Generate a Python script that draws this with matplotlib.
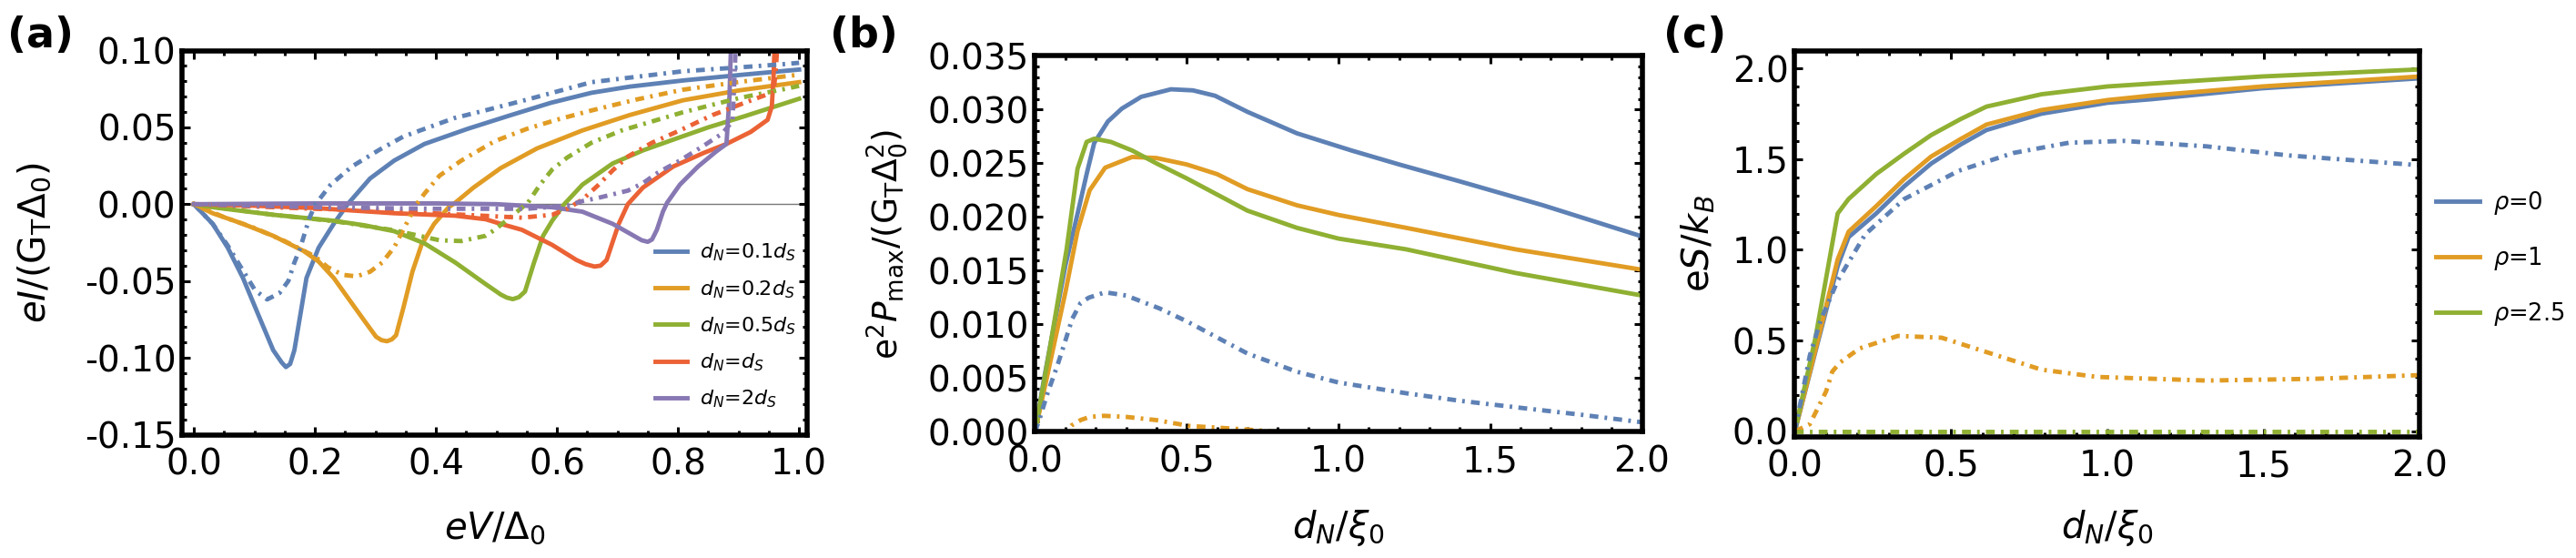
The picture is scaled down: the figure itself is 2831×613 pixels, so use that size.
import matplotlib
matplotlib.use("Agg")
import matplotlib.pyplot as plt
from matplotlib.ticker import MultipleLocator, FormatStrFormatter

plt.rcParams['font.family'] = ['DejaVu Sans']
plt.rcParams['mathtext.fontset'] = 'dejavusans'

# Mathematica default palette
BLUE, ORANGE, GREEN, RED, PURPLE = '#5E81B5', '#E19C24', '#8FB032', '#EB6235', '#8778B3'
DASHDOT = (0, (2.0, 1.4, 0.6, 1.4))

# ---------------- panel (a): eI/(G_T Delta_0) vs eV/Delta_0 ----------------
a_labels = [r'$d_N$=0.1$d_S$', r'$d_N$=0.2$d_S$', r'$d_N$=0.5$d_S$',
            r'$d_N$=$d_S$', r'$d_N$=2$d_S$']

a_blue_x = [0, 0.031, 0.056, 0.081, 0.106, 0.131, 0.145, 0.152, 0.159, 0.166, 0.176, 0.186,
            0.206, 0.231, 0.254, 0.291, 0.331, 0.381, 0.452, 0.52, 0.59, 0.657, 0.72, 0.808,
            0.908, 1.0]
a_blue_y = [0, -0.0128, -0.0284, -0.048, -0.0716, -0.095, -0.103, -0.106, -0.104, -0.095,
            -0.0716, -0.048, -0.0284, -0.0128, 0, 0.0167, 0.0284, 0.0392, 0.049, 0.0575,
            0.066, 0.0725, 0.0765, 0.0805, 0.0843, 0.0876]
a_blue_dd_x = [0, 0.031, 0.056, 0.076, 0.101, 0.121, 0.141, 0.156, 0.166, 0.176, 0.191,
               0.201, 0.226, 0.261, 0.306, 0.346, 0.381, 0.43, 0.481, 0.55, 0.657, 0.808,
               0.9, 0.977, 1.0]
a_blue_dd_y = [0, -0.0128, -0.027, -0.040, -0.056, -0.062, -0.058, -0.050, -0.038, -0.028,
               -0.0088, 0, 0.0127, 0.0245, 0.0353, 0.044, 0.049, 0.056, 0.061, 0.068, 0.0794,
               0.0865, 0.089, 0.0912, 0.092]

a_orange_x = [0, 0.031, 0.081, 0.131, 0.181, 0.206, 0.231, 0.256, 0.281, 0.301, 0.31, 0.319,
              0.327, 0.334, 0.346, 0.361, 0.376, 0.397, 0.421, 0.432, 0.462, 0.507, 0.567,
              0.642, 0.72, 0.808, 0.9, 1.0]
a_orange_y = [0, -0.0059, -0.0128, -0.0206, -0.0304, -0.0373, -0.048, -0.0618, -0.0755,
              -0.0863, -0.0885, -0.0892, -0.088, -0.0853, -0.0676, -0.044, -0.0265, -0.0128,
              -0.002, 0.001, 0.0108, 0.0235, 0.0363, 0.048, 0.058, 0.0676, 0.074, 0.0794]
a_orange_dd_x = [0, 0.05, 0.1, 0.15, 0.2, 0.221, 0.246, 0.269, 0.291, 0.311, 0.331, 0.351,
                 0.366, 0.381, 0.406, 0.442, 0.497, 0.55, 0.6, 0.657, 0.73, 0.808, 0.9, 1.0]
a_orange_dd_y = [0, -0.0085, -0.0155, -0.024, -0.034, -0.041, -0.046, -0.047, -0.044, -0.038,
                 -0.028, -0.0128, -0.001, 0.0069, 0.0186, 0.0284, 0.041, 0.049, 0.055, 0.061,
                 0.068, 0.0745, 0.0795, 0.0843]

a_green_x = [0, 0.031, 0.131, 0.231, 0.281, 0.331, 0.381, 0.432, 0.482, 0.507, 0.517, 0.527,
             0.537, 0.547, 0.562, 0.577, 0.592, 0.612, 0.642, 0.692, 0.742, 0.792, 0.85,
             0.908, 1.0]
a_green_y = [0, -0.002, -0.0069, -0.0108, -0.0137, -0.0176, -0.0255, -0.038, -0.052, -0.0588,
             -0.0608, -0.0618, -0.0605, -0.0569, -0.038, -0.0206, -0.0108, 0, 0.0127, 0.0265,
             0.035, 0.042, 0.050, 0.057, 0.0686]
a_green_dd_x = [0, 0.131, 0.231, 0.331, 0.361, 0.406, 0.442, 0.482, 0.497, 0.522, 0.552,
                0.572, 0.592, 0.617, 0.657, 0.707, 0.808, 0.9, 0.983, 1.0]
a_green_dd_y = [0, -0.0069, -0.011, -0.017, -0.0196, -0.0235, -0.024, -0.0206, -0.0167,
                -0.0088, 0.001, 0.0127, 0.0225, 0.0304, 0.040, 0.048, 0.0598, 0.069, 0.0755,
                0.077]

a_red_x = [0, 0.1, 0.2, 0.331, 0.432, 0.482, 0.507, 0.542, 0.592, 0.632, 0.647, 0.662, 0.672,
           0.682, 0.692, 0.702, 0.717, 0.742, 0.792, 0.842, 0.880, 0.92, 0.948, 0.955, 0.958,
           0.96]
a_red_y = [0, -0.001, -0.0025, -0.0059, -0.0075, -0.0098, -0.0128, -0.0167, -0.0265, -0.0363,
           -0.039, -0.0406, -0.040, -0.0363, -0.0245, -0.0128, 0, 0.0108, 0.0245, 0.0333,
           0.0392, 0.047, 0.0549, 0.0637, 0.085, 0.11]
a_red_dd_x = [0, 0.1, 0.2, 0.3, 0.4, 0.492, 0.542, 0.592, 0.617, 0.642, 0.667, 0.692, 0.717,
              0.757, 0.803, 0.857, 0.91, 0.958, 0.962, 0.965]
a_red_dd_y = [0, -0.0015, -0.003, -0.004, -0.006, -0.0078, -0.0088, -0.0069, -0.003, 0.003,
              0.012, 0.022, 0.031, 0.040, 0.048, 0.058, 0.066, 0.073, 0.09, 0.11]

a_purple_x = [0, 0.2, 0.4, 0.5, 0.592, 0.642, 0.692, 0.727, 0.74, 0.75, 0.757, 0.765, 0.775,
              0.782, 0.803, 0.833, 0.863, 0.880, 0.885, 0.888]
a_purple_y = [0, 0.0005, 0.0005, 0, -0.002, -0.0049, -0.0128, -0.0206, -0.0235, -0.0245,
              -0.023, -0.0167, -0.0049, 0.001, 0.0127, 0.0245, 0.0343, 0.0392, 0.07, 0.11]
a_purple_dd_x = [0, 0.2, 0.4, 0.55, 0.617, 0.642, 0.667, 0.717, 0.742, 0.767, 0.803, 0.843,
                 0.873, 0.89, 0.893, 0.896]
a_purple_dd_y = [0, -0.002, -0.003, -0.003, -0.001, 0.002, 0.004, 0.0088, 0.0137, 0.0206,
                 0.0284, 0.0382, 0.046, 0.054, 0.08, 0.11]

# ---------------- panel (b): e^2 P_max/(G_T Delta_0^2) vs d_N/xi_0 ----------------
b_blue_x = [0, 0.03, 0.07, 0.1, 0.14, 0.17, 0.195, 0.24, 0.286, 0.35, 0.448, 0.52, 0.593,
            0.70, 0.863, 1.043, 1.2, 1.403, 1.674, 2.0]
b_blue_y = [0, 0.005, 0.011, 0.0155, 0.0203, 0.024, 0.0269, 0.0289, 0.0301, 0.0312, 0.0319,
            0.0318, 0.0313, 0.0298, 0.0278, 0.0262, 0.0249, 0.0233, 0.0211, 0.0182]
b_orange_x = [0, 0.05, 0.1, 0.14, 0.18, 0.231, 0.32, 0.40, 0.50, 0.60, 0.70, 0.863, 1.0,
              1.223, 1.583, 2.0]
b_orange_y = [0, 0.0065, 0.013, 0.0187, 0.0225, 0.0246, 0.0256, 0.0255, 0.0249, 0.0240,
              0.0226, 0.0211, 0.0202, 0.019, 0.017, 0.0151]
b_green_x = [0, 0.05, 0.104, 0.14, 0.17, 0.195, 0.25, 0.32, 0.40, 0.50, 0.60, 0.70, 0.863,
             1.0, 1.223, 1.583, 2.0]
b_green_y = [0, 0.008, 0.017, 0.0245, 0.027, 0.0273, 0.0270, 0.0262, 0.025, 0.0236, 0.0221,
             0.0206, 0.019, 0.018, 0.017, 0.0148, 0.0127]
b_blue_dd_x = [0, 0.016, 0.04, 0.075, 0.1, 0.122, 0.15, 0.177, 0.231, 0.30, 0.41, 0.50,
               0.593, 0.70, 0.863, 1.0, 1.223, 1.4, 1.583, 1.8, 2.0]
b_blue_dd_y = [0, 0.0013, 0.0035, 0.0063, 0.0085, 0.0105, 0.012, 0.0125, 0.013, 0.0127,
               0.0115, 0.0103, 0.0089, 0.0073, 0.0056, 0.0046, 0.0036, 0.0029, 0.0023,
               0.0016, 0.0009]
b_orange_dd_x = [0, 0.1, 0.12, 0.15, 0.18, 0.227, 0.3, 0.4, 0.51, 0.6, 0.71, 0.8, 2.0]
b_orange_dd_y = [0, 0, 0.0006, 0.0011, 0.0014, 0.0015, 0.0014, 0.0011, 0.00055, 0.0004,
                 0.0002, 0.0, 0.0]
b_green_dd_x = [0, 2.0]
b_green_dd_y = [0, 0]

# ---------------- panel (c): eS/k_B vs d_N/xi_0 ----------------
c_labels = [r'$\rho$=0', r'$\rho$=1', r'$\rho$=2.5']
c_x = [0, 0.066, 0.137, 0.172, 0.26, 0.35, 0.436, 0.53, 0.613, 0.789, 1.0, 1.142, 1.495, 2.0]
c_blue_y = [0, 0.44, 0.91, 1.07, 1.20, 1.35, 1.475, 1.58, 1.66, 1.75, 1.81, 1.83, 1.89, 1.945]
c_orange_y = [0, 0.45, 0.947, 1.1, 1.24, 1.39, 1.514, 1.61, 1.69, 1.77, 1.825, 1.85, 1.90,
              1.955]
c_green_y = [0, 0.516, 1.2, 1.28, 1.417, 1.53, 1.632, 1.72, 1.789, 1.857, 1.90, 1.916, 1.955,
             1.994]
c_blue_dd_x = [0, 0.048, 0.083, 0.137, 0.225, 0.35, 0.525, 0.7, 0.877, 1.053, 1.318, 1.58, 2.0]
c_blue_dd_y = [0, 0.418, 0.613, 0.83, 1.085, 1.28, 1.436, 1.534, 1.59, 1.60, 1.57, 1.52, 1.466]
c_orange_dd_x = [0, 0.048, 0.1, 0.12, 0.145, 0.207, 0.33, 0.47, 0.613, 0.789, 0.967, 1.318,
                 1.67, 2.0]
c_orange_dd_y = [0, 0.04, 0.22, 0.33, 0.38, 0.457, 0.526, 0.516, 0.437, 0.34, 0.30, 0.28,
                 0.29, 0.31]
c_green_dd_x = [0, 2.0]
c_green_dd_y = [0, 0]


def style_axes(ax, xmaj, xmin, ymaj, ymin, xfmt, yfmt):
    """Mathematica-like frame: thick black box, ticks inside on all sides."""
    for s in ax.spines.values():
        s.set_linewidth(4)
    ax.xaxis.set_major_locator(MultipleLocator(xmaj))
    ax.xaxis.set_minor_locator(MultipleLocator(xmin))
    ax.yaxis.set_major_locator(MultipleLocator(ymaj))
    ax.yaxis.set_minor_locator(MultipleLocator(ymin))
    ax.xaxis.set_major_formatter(FormatStrFormatter(xfmt))
    ax.yaxis.set_major_formatter(FormatStrFormatter(yfmt))
    ax.tick_params(which='both', direction='in', top=True, right=True, width=2.2,
                   labelsize=28)
    ax.tick_params(which='major', length=6.5)
    ax.tick_params(which='minor', length=3.5)
    ax.tick_params(axis='x', pad=10)
    ax.tick_params(axis='y', pad=5)


def put_labels(ax, xlab, ylab, xy_pos, yx_pos, ysize=29):
    """Axis labels centred on explicit axes-fraction positions."""
    ax.set_xlabel(xlab, fontsize=29, ha='center', va='center')
    ax.xaxis.set_label_coords(0.5, xy_pos)
    ax.set_ylabel(ylab, fontsize=ysize, ha='center', va='center',
                  rotation=90, rotation_mode='default')
    ax.yaxis.set_label_coords(yx_pos, 0.5)


fig = plt.figure(figsize=(28.31, 6.13), dpi=100)
ax_a = fig.add_axes([0.07082, 0.22104, 0.24267, 0.68842])
ax_b = fig.add_axes([0.40180, 0.22594, 0.23561, 0.67374])
ax_c = fig.add_axes([0.69675, 0.21778, 0.24267, 0.69168])

LW = 3.5

# (a)
ax_a.axhline(0, color='#777777', lw=1.0, zorder=1)
a_solid = [(a_blue_x, a_blue_y, BLUE), (a_orange_x, a_orange_y, ORANGE),
           (a_green_x, a_green_y, GREEN), (a_red_x, a_red_y, RED),
           (a_purple_x, a_purple_y, PURPLE)]
a_dd = [(a_blue_dd_x, a_blue_dd_y, BLUE), (a_orange_dd_x, a_orange_dd_y, ORANGE),
        (a_green_dd_x, a_green_dd_y, GREEN), (a_red_dd_x, a_red_dd_y, RED),
        (a_purple_dd_x, a_purple_dd_y, PURPLE)]
a_handles = []
for (x, y, c), lab in zip(a_solid, a_labels):
    h, = ax_a.plot(x, y, color=c, lw=LW, label=lab)
    a_handles.append(h)
for x, y, c in a_dd:
    ax_a.plot(x, y, color=c, lw=LW, ls=DASHDOT)
ax_a.set_xlim(-0.019, 1.014)
ax_a.set_ylim(-0.15, 0.10)
style_axes(ax_a, 0.2, 0.05, 0.05, 0.01, '%.1f', '%.2f')
put_labels(ax_a, r'$eV/\Delta_0$', r'$eI/(\mathrm{G_T}\Delta_0)$', -0.243, -0.2365)
ax_a.legend(handles=a_handles, loc='center left', bbox_to_anchor=(0.756, 0.283),
            frameon=False, fontsize=16, borderpad=0, borderaxespad=0,
            handlelength=1.6, handletextpad=0.6, labelspacing=0.75)

# (b)
for x, y, c in [(b_blue_x, b_blue_y, BLUE), (b_orange_x, b_orange_y, ORANGE),
                (b_green_x, b_green_y, GREEN)]:
    ax_b.plot(x, y, color=c, lw=LW)
for x, y, c in [(b_blue_dd_x, b_blue_dd_y, BLUE), (b_orange_dd_x, b_orange_dd_y, ORANGE),
                (b_green_dd_x, b_green_dd_y, GREEN)]:
    ax_b.plot(x, y, color=c, lw=LW, ls=DASHDOT)
ax_b.set_xlim(0, 2.0)
ax_b.set_ylim(0, 0.035)
style_axes(ax_b, 0.5, 0.1, 0.005, 0.001, '%.1f', '%.3f')
put_labels(ax_b, r'$d_N/\xi_0$',
           r'$\mathrm{e}^2P_{\mathrm{max}}/(\mathrm{G_T}\Delta_0^2)$', -0.255, -0.2436,
           ysize=27)

# (c)
c_handles = []
for y, c, lab in zip([c_blue_y, c_orange_y, c_green_y], [BLUE, ORANGE, GREEN], c_labels):
    h, = ax_c.plot(c_x, y, color=c, lw=LW, label=lab)
    c_handles.append(h)
for x, y, c in [(c_blue_dd_x, c_blue_dd_y, BLUE), (c_orange_dd_x, c_orange_dd_y, ORANGE),
                (c_green_dd_x, c_green_dd_y, GREEN)]:
    ax_c.plot(x, y, color=c, lw=LW, ls=DASHDOT)
ax_c.set_xlim(0, 2.0)
ax_c.set_ylim(-0.028, 2.098)
style_axes(ax_c, 0.5, 0.1, 0.5, 0.1, '%.1f', '%.1f')
put_labels(ax_c, r'$d_N/\xi_0$', r'$\mathrm{e}S/k_B$', -0.237, -0.1536)
ax_c.legend(handles=c_handles, loc='center left', bbox_to_anchor=(1.0255, 0.461),
            frameon=False, fontsize=18.5, borderpad=0, borderaxespad=0,
            handlelength=1.85, handletextpad=0.6, labelspacing=1.2)

# panel letters
for xpos, lab in [(0.003, '(a)'), (0.322, '(b)'), (0.6457, '(c)')]:
    fig.text(xpos, 0.936, lab, fontsize=33, fontweight='bold', va='center')

fig.savefig('out.png', dpi=100)
